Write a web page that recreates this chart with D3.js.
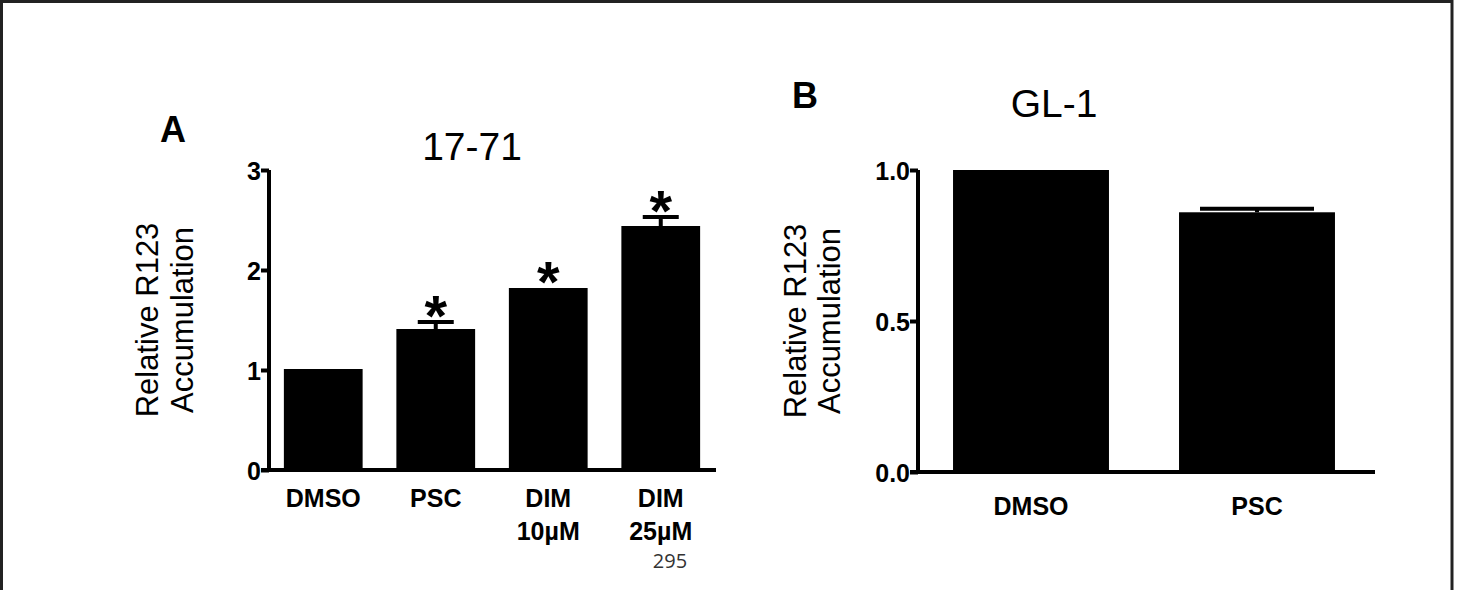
<!DOCTYPE html>
<html><head><meta charset="utf-8">
<script src="https://cdn.jsdelivr.net/npm/d3@7"></script>
<style>body{margin:0;background:#fff}text{font-family:"Liberation Sans",Arial,sans-serif}</style>
</head><body>
<script>
// panel A data
var catsA = [["DMSO"], ["PSC"], ["DIM", "10µM"], ["DIM", "25µM"]];
var valsA = [1.01, 1.41, 1.82, 2.44];
var errA = [0, 0.07, 0, 0.09];
var starA = [false, true, true, true];
var ticksA = [0, 1, 2, 3];
// panel B data
var catsB = ["DMSO", "PSC"];
var valsB = [1.0, 0.86];
var errB = [0, 0.012];
var ticksB = [0.0, 0.5, 1.0];

var svg = d3.select('body').append('svg')
            .attr('width', 1466)
            .attr('height', 590);

// frame
svg.append('path').attr('d', 'M1.5,590 V1.5 H1452 V590')
   .attr('fill', 'none').attr('stroke', '#222').attr('stroke-width', 3);

var drawPanel = function(o) {
  var g = svg.append('g');
  var y = d3.scaleLinear().domain(o.domain).range([o.y0, o.y1]);
  var x = d3.scaleBand().domain(d3.range(o.vals.length))
            .range([o.bx0, o.bx1]).paddingInner(o.pad).paddingOuter(o.pad / 2);

  g.selectAll('rect.bar').data(o.vals).enter().append('rect')
   .attr('x', function(d, i) { return x(i); })
   .attr('width', x.bandwidth())
   .attr('y', function(d) { return y(d); })
   .attr('height', function(d) { return y(0) - y(d); })
   .attr('fill', '#000');

  // error bars (upper only) and stars
  o.vals.forEach(function(v, i) {
    var cx = x(i) + x.bandwidth() / 2;
    var top = v + o.err[i];
    if (o.err[i]) {
      g.append('line').attr('x1', cx).attr('x2', cx)
       .attr('y1', y(v)).attr('y2', y(top))
       .attr('stroke', '#000').attr('stroke-width', 4);
      g.append('line').attr('x1', cx - o.cap).attr('x2', cx + o.cap)
       .attr('y1', y(top)).attr('y2', y(top))
       .attr('stroke', '#000').attr('stroke-width', 4);
    }
    if (o.star && o.star[i]) {
      g.append('text').attr('x', cx).attr('y', y(top) + 14)
       .attr('text-anchor', 'middle').attr('font-size', 58).attr('font-weight', 'bold')
       .text('*');
    }
  });

  var yAxis = g.append('g').attr('transform', 'translate(' + o.ax + ',0)')
               .call(d3.axisLeft(y).tickValues(o.ticks).tickSize(8).tickFormat(o.fmt));
  yAxis.select('.domain').attr('stroke-width', 4).attr('d', 'M0,' + (o.y0 + 2) + 'V' + o.y1);
  yAxis.selectAll('.tick line').attr('stroke-width', 4);
  yAxis.selectAll('.tick text').attr('font-size', 25).attr('font-weight', 'bold')
       .attr('fill', '#000').attr('x', -8).attr('dy', '0.36em')
       .style('font-family', '"Liberation Sans",Arial,sans-serif');

  g.append('line').attr('x1', o.ax - 8).attr('x2', o.axEnd)
   .attr('y1', o.y0).attr('y2', o.y0).attr('stroke', '#000').attr('stroke-width', 4);

  o.cats.forEach(function(c, i) {
    var lines = Array.isArray(c) ? c : [c];
    lines.forEach(function(s, k) {
      g.append('text').attr('x', x(i) + x.bandwidth() / 2).attr('y', o.y0 + o.lab + k * 33)
       .attr('text-anchor', 'middle').attr('font-size', 25).attr('font-weight', 'bold').text(s);
    });
  });

  var cy = (o.y0 + o.y1) / 2;
  [['Relative R123', o.yl1], ['Accumulation', o.yl2]].forEach(function(p) {
    g.append('text').attr('transform', 'translate(' + p[1] + ',' + cy + ') rotate(-90)')
     .attr('text-anchor', 'middle').attr('font-size', 31).text(p[0]);
  });

  g.append('text').attr('x', o.tx).attr('y', o.ty).attr('text-anchor', 'middle')
   .attr('font-size', 39).text(o.title);
  g.append('text').attr('x', o.px).attr('y', o.py).attr('font-size', 36)
   .attr('font-weight', 'bold').text(o.panel);
};

drawPanel({ vals: valsA, err: errA, star: starA, cats: catsA, ticks: ticksA, domain: [0, 3],
  fmt: d3.format('d'), y0: 470, y1: 170, ax: 269, axEnd: 716, bx0: 267, bx1: 717, pad: 0.3,
  cap: 18, lab: 37, yl1: 158, yl2: 193, title: '17-71', tx: 472, ty: 160, panel: 'A', px: 160, py: 142 });

drawPanel({ vals: valsB, err: errB, cats: catsB, ticks: ticksB, domain: [0, 1],
  fmt: d3.format('.1f'), y0: 472, y1: 170, ax: 918, axEnd: 1375, bx0: 918, bx1: 1370, pad: 0.31,
  cap: 57, lab: 43, yl1: 806, yl2: 840, title: 'GL-1', tx: 1054, ty: 117, panel: 'B', px: 792, py: 108 });

svg.append('text').attr('x', 670).attr('y', 568).attr('text-anchor', 'middle')
   .attr('font-size', 20).attr('fill', '#333')
   .style('font-family', '"Open Sans",sans-serif').text('295');
</script>
</body></html>
